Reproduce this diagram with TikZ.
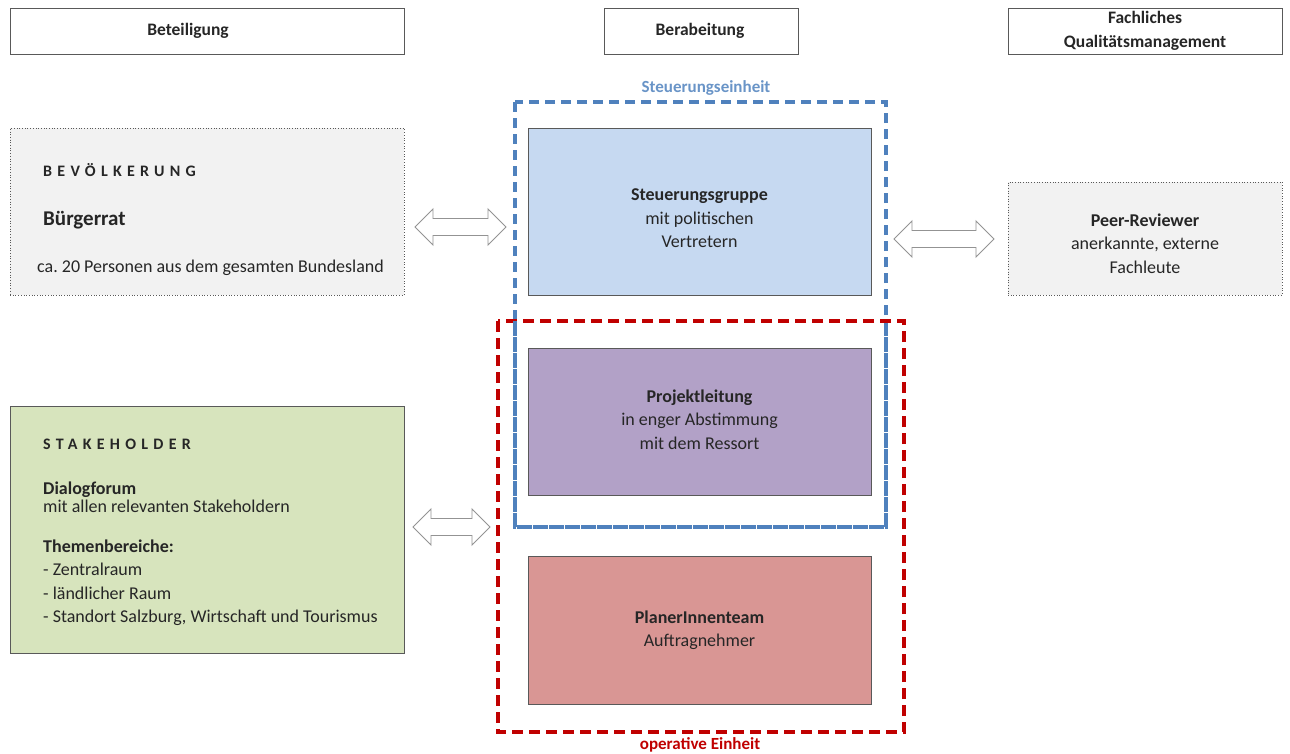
\documentclass[tikz,border=0pt]{standalone}
\usepackage{fontspec}
\setmainfont{Carlito}
\usetikzlibrary{positioning}
\frenchspacing
\definecolor{boxborder}{HTML}{595959}
\definecolor{grayfill}{HTML}{F2F2F2}
\definecolor{bluefill}{HTML}{C6D9F1}
\definecolor{purplefill}{HTML}{B2A1C7}
\definecolor{redfill}{HTML}{D99694}
\definecolor{greenfill}{HTML}{D7E4BD}
\definecolor{bluedash}{HTML}{4F81BD}
\definecolor{reddash}{HTML}{C00000}
\definecolor{txt}{HTML}{262626}
\tikzset{
  x=1pt, y=-1pt,
  every node/.style={text=txt, font=\fontsize{18}{23.5}\selectfont},
  header/.style={draw=boxborder, line width=1pt, fill=white, inner sep=0},
  headertext/.style={font=\fontsize{17.5}{24}\selectfont\bfseries, align=center, inner sep=0},
  filled/.style={draw=boxborder, line width=1pt, inner sep=0},
  boxtext/.style={align=center, inner sep=0},
  dottedbox/.style={draw=boxborder, line width=0.7pt, dotted, fill=grayfill, inner sep=0},
  lefttext/.style={anchor=west, inner sep=0, align=left},
  spaced/.style={font=\fontsize{16}{18}\selectfont\bfseries\addfontfeature{LetterSpace=33}},
  bluegroup/.style={draw=bluedash, line width=3.2pt, dash pattern=on 10pt off 6pt},
  redgroup/.style={draw=reddash, line width=3.5pt, dash pattern=on 11pt off 6pt},
  blockarrow/.style={draw=gray!85, line width=0.9pt, fill=white, line join=miter}
}
\newcommand{\dblarrow}[3]{% center, half length, name
  \coordinate (#3) at #1;
  \begin{scope}[shift={(#3)}]
  \draw[blockarrow] (-#2,0) -- (-#2+18,-18) -- (-#2+18,-8.5) -- (#2-18,-8.5) -- (#2-18,-18) -- (#2,0) -- (#2-18,18) -- (#2-18,8.5) -- (-#2+18,8.5) -- (-#2+18,18) -- cycle;
  \end{scope}
}
\begin{document}
\begin{tikzpicture}
\useasboundingbox (0,0) rectangle (1290,753);
% headers
\node[header, minimum width=394, minimum height=46] (hbet) at (207,31) {};
\node[headertext] (hbett) at (188,31) {Beteiligung};
\node[header, minimum width=194, minimum height=46] (hber) at (701,31) {};
\node[headertext] (hbert) at (700,31) {Berabeitung};
\node[header, minimum width=274, minimum height=46] (hfach) at (1145,31) {};
\node[headertext] (hfacht) at (1145,31) {Fachliches\\Qualitätsmanagement};
% group frames
\draw[bluegroup] (515,102) rectangle (886,527);
\node[text=bluedash!85, font=\fontsize{17}{18}\selectfont\bfseries] (lblsteu) at (706,88) {Steuerungseinheit};
% center boxes
\node[filled, fill=bluefill, minimum width=343, minimum height=167] (steu) at (699.5,211.5) {};
\node[boxtext] (steut) at (699.5,218.5) {\textbf{Steuerungsgruppe}\\mit politischen\\Vertretern};
\node[filled, fill=purplefill, minimum width=343, minimum height=147] (proj) at (699.5,421.5) {};
\node[boxtext] (projt) at (699.5,419.5) {\textbf{Projektleitung}\\in enger Abstimmung\\mit dem Ressort};
\node[filled, fill=redfill, minimum width=343, minimum height=148] (plan) at (699.5,630) {};
\node[boxtext] (plant) at (699.5,630) {\textbf{PlanerInnenteam}\\Auftragnehmer};
\draw[redgroup] (498,321) rectangle (904,732);
\draw[bluegroup] (515,321) -- (515,527) -- (886,527) -- (886,321);
\node[text=reddash, font=\fontsize{17}{18}\selectfont\bfseries] (lblop) at (700,745) {operative Einheit};
% Bevoelkerung
\node[dottedbox, minimum width=394, minimum height=167] (bev) at (207,211.5) {};
\node[lefttext, spaced] (bevt) at (43,170) {BEVÖLKERUNG};
\node[lefttext, font=\fontsize{21}{24}\selectfont\bfseries] (buerger) at (43,220) {Bürgerrat};
\node[lefttext] (ca) at (37,268) {ca. 20 Personen aus dem gesamten Bundesland};
% Peer reviewer
\node[dottedbox, minimum width=274, minimum height=113] (peer) at (1145,238.5) {};
\node[boxtext] (peert) at (1145,243.5) {\textbf{Peer-Reviewer}\\anerkannte, externe\\Fachleute};
% Stakeholder
\node[filled, fill=greenfill, minimum width=394, minimum height=247] (stake) at (207,529.5) {};
\node[lefttext, spaced] (staket) at (43,444) {STAKEHOLDER};
\node[lefttext, font=\fontsize{18}{18.5}\selectfont] (dialog) at (43,497) {\textbf{Dialogforum}\\mit allen relevanten Stakeholdern};
\node[lefttext] (themen) at (43,582.5) {\textbf{Themenbereiche:}\\- Zentralraum\\- ländlicher Raum\\- Standort Salzburg, Wirtschaft und Tourismus};
% arrows
\dblarrow{(460.5,227)}{45.5}{a1}
\dblarrow{(944,239)}{50}{a2}
\dblarrow{(451.5,527)}{38.5}{a3}
\end{tikzpicture}
\end{document}
